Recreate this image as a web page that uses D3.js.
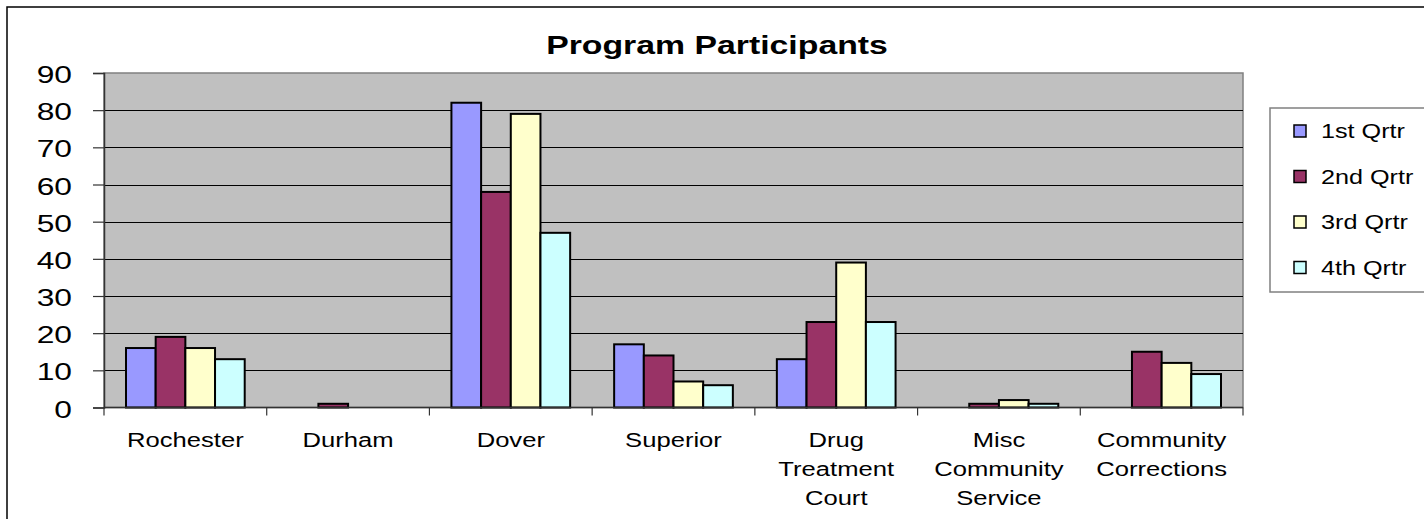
<!DOCTYPE html>
<html>
<head>
<meta charset="utf-8">
<script src="https://cdn.jsdelivr.net/npm/d3@7"></script>
<style>
  body { margin: 0; background: #fff; }
  svg { display: block; font-family: "Liberation Sans", Arial, sans-serif; }
</style>
</head>
<body>
<div id="chart"></div>
<script>
// Data
const categories = [
  ["Rochester"],
  ["Durham"],
  ["Dover"],
  ["Superior"],
  ["Drug", "Treatment", "Court"],
  ["Misc", "Community", "Service"],
  ["Community", "Corrections"]
];
const seriesNames = ["1st Qrtr", "2nd Qrtr", "3rd Qrtr", "4th Qrtr"];
const q1 = [16, 0, 82, 17, 13, 0, 0];
const q2 = [19, 1, 58, 14, 23, 1, 15];
const q3 = [16, 0, 79, 7, 39, 2, 12];
const q4 = [13, 0, 47, 6, 23, 1, 9];
const yTicks = [0, 10, 20, 30, 40, 50, 60, 70, 80, 90];

const series = [q1, q2, q3, q4];
const colors = ["#9999FF", "#993366", "#FFFFCC", "#CCFFFF"];

const W = 1424, H = 519;
const plot = { left: 104, right: 1243, top: 73, bottom: 407.5 };

const svg = d3.select("#chart").append("svg")
  .attr("width", W)
  .attr("height", H);

// outer chart border (runs off the right/bottom edges)
svg.append("rect")
  .attr("x", 7).attr("y", 7)
  .attr("width", 1440).attr("height", 540)
  .attr("fill", "#fff")
  .attr("stroke", "#000")
  .attr("stroke-width", 1.5);

// helper: text stretched horizontally like the original
function label(g, txt, x, y, size, sx, anchor, weight) {
  return g.append("text")
    .attr("transform", `translate(${x},${y}) scale(${sx},1)`)
    .attr("text-anchor", anchor)
    .attr("font-size", size)
    .attr("font-weight", weight || "normal")
    .attr("fill", "#000")
    .text(txt);
}

const x0 = d3.scaleBand()
  .domain(d3.range(categories.length))
  .range([plot.left, plot.right])
  .paddingInner(0).paddingOuter(0);

const gap = 44;
const x1 = d3.scaleBand()
  .domain(d3.range(series.length))
  .range([gap / 2, x0.bandwidth() - gap / 2]);

const y = d3.scaleLinear().domain([0, 90]).range([plot.bottom, plot.top]);

// plot background
svg.append("rect")
  .attr("x", plot.left).attr("y", plot.top)
  .attr("width", plot.right - plot.left)
  .attr("height", plot.bottom - plot.top)
  .attr("fill", "#C0C0C0")
  .attr("stroke", "#808080")
  .attr("stroke-width", 1.5);

// gridlines
svg.append("g")
  .selectAll("line")
  .data(yTicks.filter(t => t > 0 && t < 90))
  .enter().append("line")
  .attr("x1", plot.left).attr("x2", plot.right)
  .attr("y1", d => Math.round(y(d)) + 0.5)
  .attr("y2", d => Math.round(y(d)) + 0.5)
  .attr("stroke", "#000")
  .attr("stroke-width", 1);

// bars
const groups = svg.append("g").selectAll("g")
  .data(categories.map((c, i) => i))
  .enter().append("g")
  .attr("transform", i => `translate(${x0(i)},0)`);

groups.selectAll("rect")
  .data(i => series.map((s, k) => ({ k, v: s[i] })).filter(d => d.v > 0))
  .enter().append("rect")
  .attr("x", d => x1(d.k))
  .attr("y", d => y(d.v))
  .attr("width", x1.bandwidth())
  .attr("height", d => y(0) - y(d.v))
  .attr("fill", d => colors[d.k])
  .attr("stroke", "#000")
  .attr("stroke-width", 2);

// y axis
const yAxis = d3.axisLeft(y).tickValues(yTicks).tickSize(11).tickFormat("");
const gy = svg.append("g")
  .attr("transform", `translate(${plot.left},0)`)
  .call(yAxis);
gy.select(".domain").attr("stroke", "#333").attr("stroke-width", 1.5);
gy.selectAll(".tick line").attr("stroke", "#333").attr("stroke-width", 1.2);
yTicks.forEach(t => label(svg, String(t), 72, y(t) + 10, 23, 1.38, "end"));

// x axis
const bounds = d3.range(categories.length + 1).map(i => plot.left + i * x0.bandwidth());
svg.append("line")
  .attr("x1", plot.left).attr("x2", plot.right)
  .attr("y1", y(0)).attr("y2", y(0))
  .attr("stroke", "#333").attr("stroke-width", 1.5);
svg.append("g").selectAll("line")
  .data(bounds)
  .enter().append("line")
  .attr("x1", d => d).attr("x2", d => d)
  .attr("y1", y(0)).attr("y2", y(0) + 8)
  .attr("stroke", "#333").attr("stroke-width", 1.2);

categories.forEach((lines, i) => {
  const cx = x0(i) + x0.bandwidth() / 2;
  lines.forEach((ln, j) => label(svg, ln, cx, 447 + j * 29, 21, 1.22, "middle"));
});

// title
label(svg, "Program Participants", 717, 54, 26, 1.3, "middle", "bold");

// legend
svg.append("rect")
  .attr("x", 1270).attr("y", 108)
  .attr("width", 200).attr("height", 184)
  .attr("fill", "#fff")
  .attr("stroke", "#808080")
  .attr("stroke-width", 1.5);

seriesNames.forEach((name, k) => {
  const cy = 131 + k * 45.5;
  svg.append("rect")
    .attr("x", 1294).attr("y", cy - 6)
    .attr("width", 12).attr("height", 12)
    .attr("fill", colors[k])
    .attr("stroke", "#000")
    .attr("stroke-width", 1.5);
  label(svg, name, 1321, cy + 7, 21, 1.2, "start");
});
</script>
</body>
</html>
